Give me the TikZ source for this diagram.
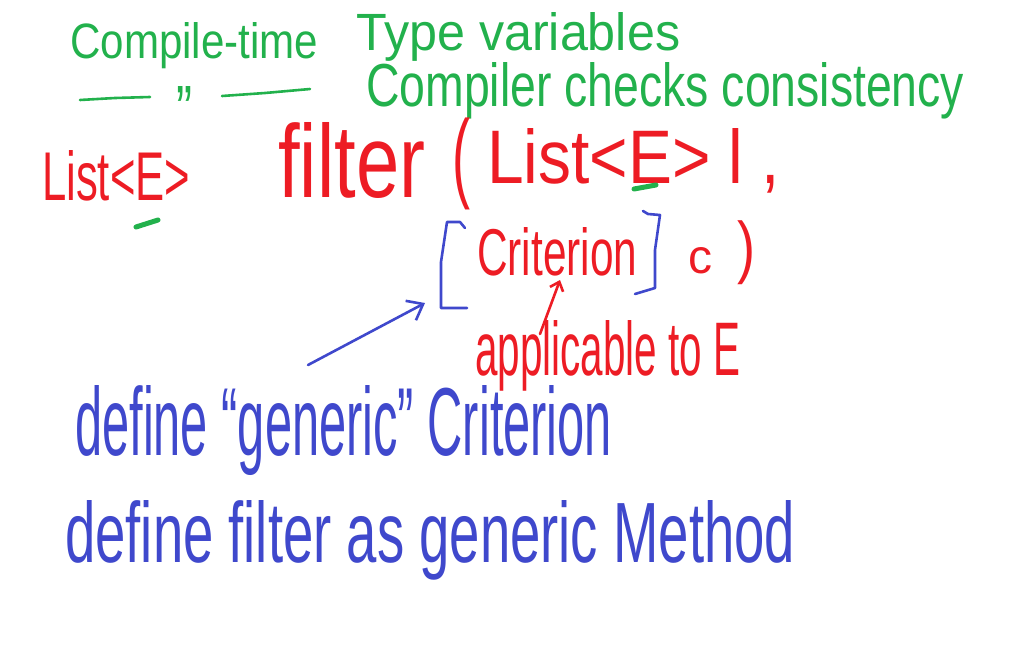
\documentclass[tikz,border=0pt]{standalone}
\usepackage{fontspec}
\setmainfont{Liberation Sans}
\usepackage{graphicx}
\usetikzlibrary{arrows.meta}
\definecolor{pgreen}{RGB}{34,177,76}
\definecolor{pred}{RGB}{237,28,36}
\definecolor{pblue}{RGB}{63,72,204}
\newcommand{\hwtext}[3]{\resizebox{#1pt}{#2pt}{#3}}
\tikzset{
  hw/.style={inner sep=0pt, anchor=base west, font=\fontsize{30}{34}\selectfont},
  pen/.style={line width=2.6pt, line cap=round, line join=round},
  barb/.style={-{Straight Barb[length=14pt,width=22pt,line width=2.6pt]}}
}
\begin{document}
\begin{tikzpicture}[x=1pt,y=-1pt]
\useasboundingbox (0,0) rectangle (1013,672);
% green
\node[hw,text=pgreen] (g1) at (70,58) {\hwtext{248}{36}{Compile-time}};
\node[hw,text=pgreen] (g2) at (356,50) {\hwtext{324}{38}{Type variables}};
\node[hw,text=pgreen] (ditto) at (176,106) {\raisebox{-26pt}[20pt][0pt]{\hwtext{16}{46}{''}}};
\draw[pen,pgreen] (80,100) -- (115,98) -- (150,97);
\draw[pen,pgreen] (222,96) -- (265,93) -- (310,89);
\node[hw,text=pgreen] (g3) at (366,106) {\hwtext{598}{44}{Compiler checks consistency}};
% red
\node[hw,text=pred] (list1) at (42,200) {\hwtext{148}{50}{List<E>}};
\draw[pen,pgreen,line width=5pt] (136,227) -- (158,220);
\node[hw,text=pred] (filter) at (278,197) {\hwtext{147}{75}{filter}};
\node[inner sep=0pt,anchor=north west,text=pred] (lpar) at (452,118) {\resizebox*{18pt}{92pt}{(}};
\node[hw,text=pred] (list2) at (487,183) {\hwtext{293}{55}{List<E> l ,}};
\draw[pen,pgreen,line width=5pt] (634,189) -- (656,185);
% criterion row
\node[hw,text=pred] (crit) at (477,275) {\hwtext{160}{48}{Criterion}};
\draw[pen,pblue] (465,228) -- (460,222) -- (447,222) -- (441,262) -- (441,308) -- (467,308);
\draw[pen,pblue] (643,211) -- (648,214) -- (660,215) -- (655,250) -- (655,288) -- (635,294);
\node[hw,text=pred] (cvar) at (688,273) {\hwtext{24}{26}{c}};
\node[inner sep=0pt,anchor=north west,text=pred] (rpar) at (737,220) {\resizebox*{18pt}{64pt}{)}};
% applicable
\node[hw,text=pred] (app) at (475,375) {\hwtext{265}{55}{applicable to E}};
\coordinate (appTop) at (540,334);
\coordinate (critBot) at (560,280);
\draw[pen,pred,-{Straight Barb[length=8pt,width=14pt,line width=2.6pt]}] (appTop) -- (critBot);
% blue arrow
\coordinate (arrStart) at (308,365);
\coordinate (lbr) at (425,303);
\draw[pen,pblue,barb] (arrStart) -- (lbr);
% blue text
\node[hw,text=pblue] (def1) at (75,455) {\hwtext{537}{70}{define ``generic'' Criterion}};
\node[hw,text=pblue] (def2) at (65,562) {\hwtext{730}{62}{define filter as generic Method}};
\end{tikzpicture}
\end{document}
